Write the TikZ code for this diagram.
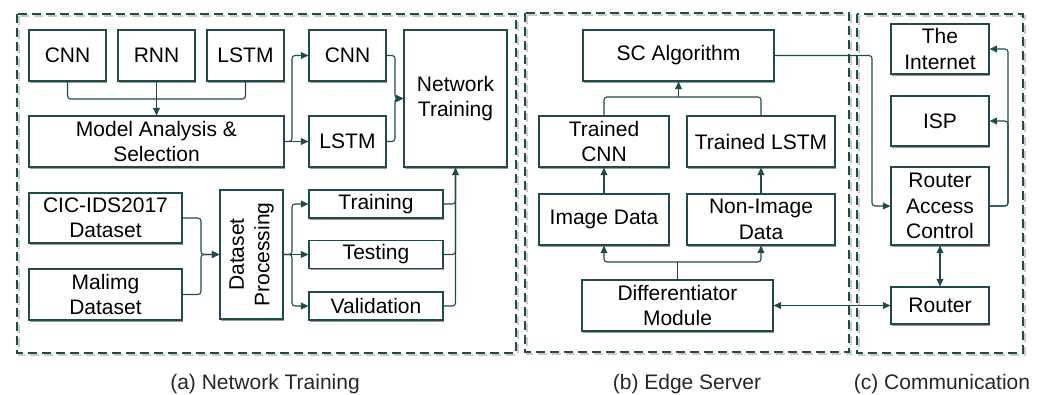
\documentclass[tikz,border=0pt]{standalone}
\usepackage{fontspec}
\setmainfont{Liberation Sans}
\usetikzlibrary{arrows.meta,shadows}
\definecolor{teal}{HTML}{1F4B4D}
\begin{document}
\begin{tikzpicture}[x=1pt,y=-1pt,
  txt/.style={font=\fontsize{21}{25.5}\selectfont, text=black, align=center},
  box/.style={draw=teal, line width=1.3pt, fill=white, rectangle, inner sep=0pt,
    txt, drop shadow={shadow xshift=1.4pt, shadow yshift=-1.8pt, opacity=0.4, fill=black}},
  conn/.style={draw=teal, line width=1.1pt, rounded corners=3pt},
  tip/.tip={Triangle[length=7.5pt,width=7pt]},
  arr/.style={conn, -tip},
  darr/.style={conn, tip-tip},
  frame/.style={draw=teal, line width=1.4pt, dash pattern=on 9pt off 5pt},
  frameshadow/.style={draw=black!45, opacity=0.45, line width=2pt, dash pattern=on 9pt off 5pt},
  caption/.style={txt, text=black!85, anchor=base}]
\useasboundingbox (0,0) rectangle (1061,394);

% dashed group frames, each with a soft offset shadow
\draw[frameshadow] (18.5,16) rectangle (517.5,355);
\draw[frame] (17,14) rectangle (516,353);
\draw[frameshadow] (526.5,15) rectangle (850.5,354);
\draw[frame] (525,13) rectangle (849,352);
\draw[frameshadow] (858.5,16) rectangle (1024.5,355);
\draw[frame] (857,14) rectangle (1023,353);

% (a) network training
\node[box, minimum width=77, minimum height=51] (cnnA) at (67.5,55.5) {CNN};
\node[box, minimum width=77, minimum height=51] (rnn) at (156.5,55.5) {RNN};
\node[box, minimum width=77, minimum height=51] (lstmA) at (245.5,55.5) {LSTM};
\node[box, minimum width=255, minimum height=51] (mas) at (156.5,141.5) {Model Analysis \&\\Selection};
\node[box, minimum width=77, minimum height=51] (cnnB) at (347.5,55.5) {CNN};
\node[box, minimum width=77, minimum height=51] (lstmB) at (347.5,141.5) {LSTM};
\node[box, minimum width=103, minimum height=137] (nt) at (455.5,98.5) {Network\\Training};
\node[box, minimum width=153, minimum height=50] (cic) at (105.5,218) {CIC-IDS2017\\Dataset};
\node[box, minimum width=153, minimum height=51] (mal) at (105.5,294.5) {Malimg\\Dataset};
\node[box, minimum width=63, minimum height=129] (dp) at (251.5,254.5) {};
\node[txt, rotate=90] (dptext) at (dp.center) {Dataset\\Processing};
\node[box, minimum width=134, minimum height=28] (trn) at (376,204) {Training};
\node[box, minimum width=134, minimum height=28] (tst) at (376,254.5) {Testing};
\node[box, minimum width=134, minimum height=28] (val) at (376,306) {Validation};

\coordinate (j1) at (156.5,99);
\draw[conn] (cnnA.south) |- (j1) -| (lstmA.south);
\draw[arr] (rnn.south) -- (mas.north);
\coordinate (s1) at (292,141.5);
\draw[arr] (mas.east) -- (s1) |- (cnnB.west);
\draw[arr] (mas.east) -- (lstmB.west);
\coordinate (m1) at (395,98.5);
\draw[arr] (cnnB.east) -| (m1) -- (nt.west);
\draw[arr] (lstmB.east) -| (m1) -- (nt.west);
\coordinate (m2) at (201,254.5);
\draw[arr] (cic.east) -| (m2) -- (dp.west);
\draw[arr] (mal.east) -| (m2) -- (dp.west);
\coordinate (s2) at (292,254.5);
\draw[arr] (dp.east) -- (s2) |- (trn.west);
\draw[arr] (dp.east) -- (tst.west);
\draw[arr] (dp.east) -- (s2) |- (val.west);
\draw[conn] (trn.east) -| (nt.south);
\draw[conn] (tst.east) -| (nt.south);
\draw[arr] (val.east) -| (nt.south);

% (b) edge server
\node[box, minimum width=191, minimum height=51] (sc) at (678.5,55.5) {SC Algorithm};
\node[box, minimum width=130, minimum height=51] (tcnn) at (604,141.5) {Trained\\CNN};
\node[box, minimum width=148, minimum height=51] (tlstm) at (761,141.5) {Trained LSTM};
\node[box, minimum width=130, minimum height=51] (img) at (604,219.5) {Image Data};
\node[box, minimum width=148, minimum height=51] (nimg) at (761,219.5) {Non-Image\\Data};
\node[box, minimum width=191, minimum height=51] (diff) at (677.5,305.5) {Differentiator\\Module};

\coordinate (j2) at (678.5,97);
\draw[conn] (tcnn.north) |- (j2) -| (tlstm.north);
\draw[arr] (j2) -- (sc.south);
\draw[arr] (img.north) -- (tcnn.south);
\draw[arr] (nimg.north) -- (tlstm.south);
\coordinate (j3) at (677.5,262);
\draw[conn] (diff.north) -- (j3);
\draw[arr] (j3) -| (img.south);
\draw[arr] (j3) -| (nimg.south);

% (c) communication
\node[box, minimum width=98, minimum height=50] (inet) at (940,49) {The\\Internet};
\node[box, minimum width=98, minimum height=50] (isp) at (940,121) {ISP};
\node[box, minimum width=98, minimum height=78] (rac) at (940,206) {Router\\Access\\Control};
\node[box, minimum width=98, minimum height=37] (router) at (940,305.5) {Router};

\coordinate (k1) at (872,206);
\draw[arr] (sc.east) -| (k1) -- (rac.west);
\coordinate (k2) at (1008,206);
\draw[arr] (rac.east) -- (k2) |- (inet.east);
\draw[arr] (rac.east) -- (k2) |- (isp.east);
\draw[darr] (rac.south) -- (router.north);
\draw[darr] (diff.east) -- (router.west);

% captions
\node[caption] (capa) at (265,389) {(a) Network Training};
\node[caption] (capb) at (687,389) {(b) Edge Server};
\node[caption] (capc) at (942,389) {(c) Communication};
\end{tikzpicture}
\end{document}
